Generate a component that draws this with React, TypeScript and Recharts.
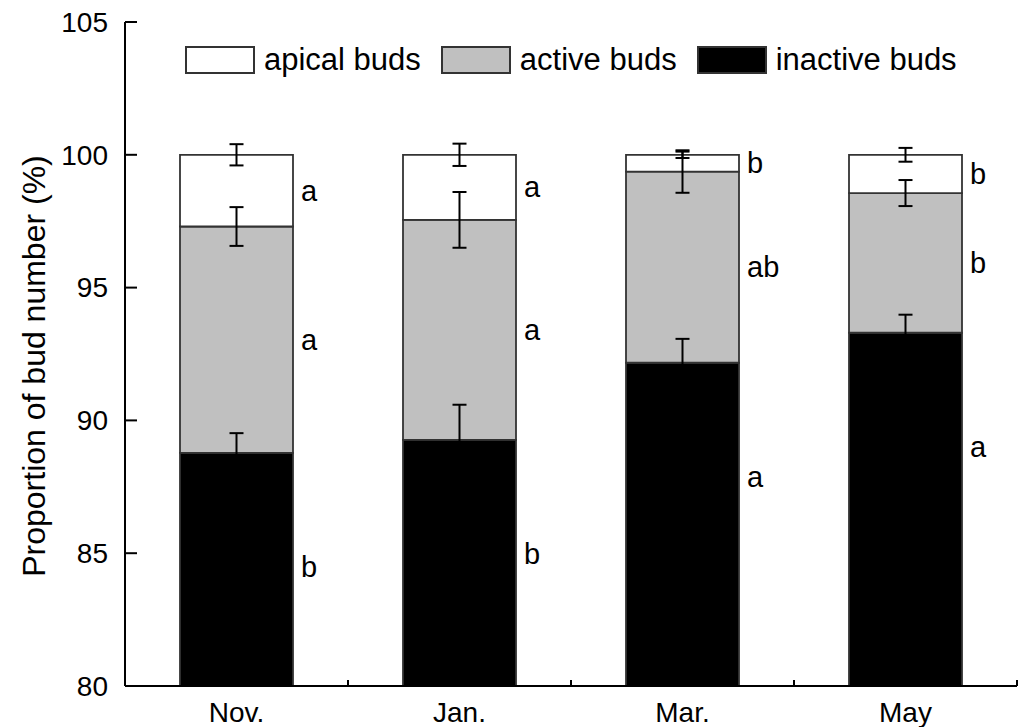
import React from 'react';
import { BarChart, Bar, XAxis, YAxis, ErrorBar, LabelList, Legend, Label } from 'recharts';

const categories = ['Nov.', 'Jan.', 'Mar.', 'May'];
const inactiveBuds = [88.78, 89.27, 92.17, 93.3];
const activeBuds = [8.52, 8.28, 7.2, 5.26];
const apicalBuds = [2.7, 2.45, 0.63, 1.44];
const inactiveErr = [0.74, 1.32, 0.9, 0.68];
const activeErr = [0.73, 1.05, 0.8, 0.49];
const apicalErr = [0.4, 0.42, 0.12, 0.26];
const inactiveLetters = ['b', 'b', 'a', 'a'];
const activeLetters = ['a', 'a', 'ab', 'b'];
const apicalLetters = ['a', 'a', 'b', 'b'];
const yTicks = [80, 85, 90, 95, 100, 105];
const yDomain = [80, 105];
const yAxisTitle = 'Proportion of bud number (%)';
const legendNames = ['apical buds', 'active buds', 'inactive buds'];
const legendFills = ['#ffffff', '#c0c0c0', '#000000'];

const rows = categories.map((cat, i) => ({
  cat,
  inactive: inactiveBuds[i],
  active: activeBuds[i],
  apical: apicalBuds[i],
  inactiveErr: inactiveErr[i],
  activeErr: activeErr[i],
  apicalErr: apicalErr[i],
  inactiveLetter: inactiveLetters[i],
  activeLetter: activeLetters[i],
  apicalLetter: apicalLetters[i],
}));

const FONT = '"Liberation Sans", Arial, Helvetica, sans-serif';
const W = 1026;
const H = 727;
const M = { top: 22, right: 9, bottom: 0, left: 0 };
const Y_W = 125;
const X_H = 41;
const HALF_BAND = (W - M.right - Y_W) / categories.length / 2;

const XTick = (props: any) => {
  const { x, y, payload } = props;
  const off = payload && typeof payload.offset === 'number' && payload.offset > 0 ? payload.offset : HALF_BAND;
  return (
    <g>
      <text x={x} y={y + 36} textAnchor="middle" fontSize={28} fontFamily={FONT} fill="#000">
        {payload.value}
      </text>
      <line x1={x + off} x2={x + off} y1={y} y2={y - 6} stroke="#000" strokeWidth={2} />
    </g>
  );
};

const YTick = (props: any) => {
  const { x, y, payload } = props;
  return (
    <g>
      <line x1={x} x2={x + 12} y1={y} y2={y} stroke="#000" strokeWidth={2} />
      <text x={x - 17} y={y} dy="0.35em" textAnchor="end" fontSize={28} fontFamily={FONT} fill="#000">
        {payload.value}
      </text>
    </g>
  );
};

const makeLetter = (mode: string) => (props: any) => {
  const vb = props.viewBox || {};
  const bx = Number(props.x ?? vb.x);
  const by = Number(props.y ?? vb.y);
  const bw = Number(props.width ?? vb.width);
  const bh = Number(props.height ?? vb.height);
  const cy = mode === 'inactive' ? by + 114 : by + bh / 2;
  return (
    <text x={bx + bw + 8} y={cy} dy="0.35em" fontSize={29} fontFamily={FONT} fill="#000">
      {props.value}
    </text>
  );
};

const renderLegend = () => (
  <div style={{ display: 'flex', alignItems: 'center', fontFamily: FONT, fontSize: 31, color: '#000' }}>
    {legendNames.map((name, i) => (
      <div key={name} style={{ display: 'flex', alignItems: 'center', marginRight: 20 }}>
        <div
          style={{
            width: 70,
            height: 28,
            boxSizing: 'border-box',
            border: '2px solid #333',
            background: legendFills[i],
          }}
        />
        <span style={{ marginLeft: 9, lineHeight: '31px', whiteSpace: 'nowrap' }}>{name}</span>
      </div>
    ))}
  </div>
);

const renderYTitle = () => (
  <text
    x={34}
    y={366}
    transform="rotate(-90 34 366)"
    textAnchor="middle"
    dominantBaseline="central"
    fontSize={32}
    fontFamily={FONT}
    fill="#000"
  >
    {yAxisTitle}
  </text>
);

export default function App() {
  return (
    <div style={{ position: 'absolute', left: 0, top: 0, width: W, height: H, background: '#fff' }}>
      <BarChart width={W} height={H} data={rows} margin={M} barSize={113}>
        <XAxis
          dataKey="cat"
          height={X_H}
          axisLine={{ stroke: '#000', strokeWidth: 2 }}
          tickLine={false}
          tickSize={0}
          tickMargin={0}
          tick={<XTick />}
          interval={0}
        />
        <XAxis xAxisId="err" dataKey="cat" hide />
        <YAxis
          type="number"
          domain={yDomain}
          ticks={yTicks}
          allowDataOverflow
          width={Y_W}
          axisLine={{ stroke: '#000', strokeWidth: 2 }}
          tickLine={false}
          tickSize={0}
          tickMargin={0}
          tick={<YTick />}
          interval={0}
        >
          <Label content={renderYTitle} />
        </YAxis>
        <Legend
          layout="horizontal"
          verticalAlign="middle"
          align="center"
          wrapperStyle={{ top: 44, left: 185, width: 'auto', height: 'auto' }}
          content={renderLegend}
        />
        <Bar dataKey="inactive" stackId="s" fill="#000" stroke="#333" strokeWidth={1.8} isAnimationActive={false}>
          <LabelList dataKey="inactiveLetter" content={makeLetter('inactive')} />
        </Bar>
        <Bar dataKey="active" stackId="s" fill="#c0c0c0" stroke="#333" strokeWidth={1.8} isAnimationActive={false}>
          <LabelList dataKey="activeLetter" content={makeLetter('active')} />
        </Bar>
        <Bar dataKey="apical" stackId="s" fill="#fff" stroke="#333" strokeWidth={1.8} isAnimationActive={false}>
          <LabelList dataKey="apicalLetter" content={makeLetter('apical')} />
        </Bar>
        <Bar xAxisId="err" dataKey="inactive" stackId="e" fill="none" stroke="none" legendType="none" isAnimationActive={false}>
          <ErrorBar dataKey="inactiveErr" direction="y" width={7} stroke="#000" strokeWidth={2} />
        </Bar>
        <Bar xAxisId="err" dataKey="active" stackId="e" fill="none" stroke="none" legendType="none" isAnimationActive={false}>
          <ErrorBar dataKey="activeErr" direction="y" width={7} stroke="#000" strokeWidth={2} />
        </Bar>
        <Bar xAxisId="err" dataKey="apical" stackId="e" fill="none" stroke="none" legendType="none" isAnimationActive={false}>
          <ErrorBar dataKey="apicalErr" direction="y" width={7} stroke="#000" strokeWidth={2} />
        </Bar>
      </BarChart>
    </div>
  );
}
